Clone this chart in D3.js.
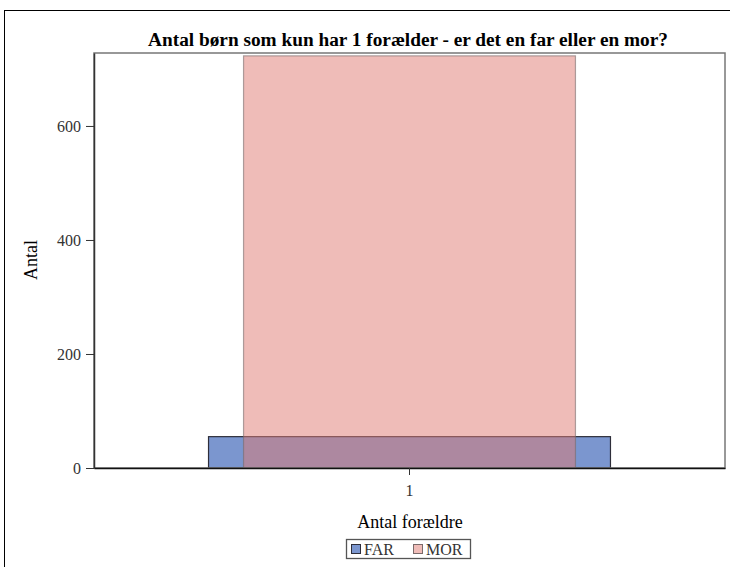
<!DOCTYPE html>
<html><head><meta charset="utf-8">
<script src="https://cdn.jsdelivr.net/npm/d3@7"></script>
<style>body{margin:0;background:#fff}svg{display:block}</style>
</head><body>
<script>
const categories = ["1"];
const series = ["FAR", "MOR"];
const farValues = [55];
const morValues = [723];
const yTicks = [0, 200, 400, 600];
const title = "Antal børn som kun har 1 forælder - er det en far eller en mor?";
const xTitle = "Antal forældre";
const yTitle = "Antal";

const FONT = "Liberation Serif, Times New Roman, DejaVu Serif, serif";
const W = 730, H = 567;
const m = {left: 94, right: 5, top: 53, bottom: 99};
const svg = d3.select("body").append("svg").attr("width", W).attr("height", H)
  .attr("font-family", FONT);

svg.append("rect").attr("x", 4.5).attr("y", 10.5).attr("width", 800).attr("height", 700)
  .attr("fill", "none").attr("stroke", "#000").attr("stroke-width", 1);

const x = d3.scaleBand().domain(categories).range([m.left, W - m.right]);
const y = d3.scaleLinear().domain([0, 728]).range([H - m.bottom, m.top]);

const farFrac = 0.637, morFrac = 0.526;
const g = svg.append("g");
const bw = x.bandwidth();

g.selectAll(".far").data(categories).join("rect")
  .attr("x", (d) => x(d) + bw * (1 - farFrac) / 2)
  .attr("width", bw * farFrac)
  .attr("y", (d, i) => y(farValues[i]))
  .attr("height", (d, i) => y(0) - y(farValues[i]))
  .attr("fill", "#7b96cf").attr("stroke", "#2e2e3a").attr("stroke-width", 1.2);

g.selectAll(".mor").data(categories).join("rect")
  .attr("x", (d) => x(d) + bw * (1 - morFrac) / 2)
  .attr("width", bw * morFrac)
  .attr("y", (d, i) => y(morValues[i]))
  .attr("height", (d, i) => y(0) - y(morValues[i]))
  .attr("fill", "rgb(223,121,113)").attr("fill-opacity", 0.5)
  .attr("stroke", "#7a6a6a").attr("stroke-opacity", 0.6).attr("stroke-width", 1.2);

// frame
svg.append("rect").attr("x", m.left).attr("y", m.top)
  .attr("width", W - m.right - m.left).attr("height", H - m.bottom - m.top)
  .attr("fill", "none").attr("stroke", "#777").attr("stroke-width", 1.5);

const ya = svg.append("g").attr("transform", `translate(${m.left},0)`)
  .call(d3.axisLeft(y).tickValues(yTicks).tickSize(8).tickSizeOuter(0).tickPadding(5).tickFormat(d3.format("d")));
ya.attr("font-family", FONT).attr("font-size", 16);
ya.select(".domain").attr("stroke", "#333").attr("stroke-width", 1.5);
ya.selectAll(".tick line").attr("stroke", "#333");
ya.selectAll("text").attr("fill", "#333");

const xa = svg.append("g").attr("transform", `translate(0,${H - m.bottom})`)
  .call(d3.axisBottom(x).tickSize(7).tickSizeOuter(0).tickPadding(10));
xa.attr("font-family", FONT).attr("font-size", 16);
xa.select(".domain").attr("stroke", "#111").attr("stroke-width", 1.5);
xa.selectAll(".tick line").attr("stroke", "#333");
xa.selectAll("text").attr("fill", "#333");

svg.append("text").attr("x", 408).attr("y", 46).attr("text-anchor", "middle")
  .attr("font-size", 19.3).attr("font-weight", "bold").text(title);
svg.append("text").attr("x", 410).attr("y", 528).attr("text-anchor", "middle")
  .attr("font-size", 18).text(xTitle);
svg.append("text").attr("transform", "translate(37,260) rotate(-90)").attr("text-anchor", "middle")
  .attr("font-size", 18).text(yTitle);

// legend
const lg = svg.append("g");
lg.append("rect").attr("x", 346.5).attr("y", 539.5).attr("width", 124).attr("height", 19)
  .attr("fill", "#fff").attr("stroke", "#555").attr("stroke-width", 1.3);
const legItems = [
  {name: series[0], x: 351, fill: "#7b96cf", stroke: "#2e2e3a", op: 1},
  {name: series[1], x: 413, fill: "rgb(223,121,113)", stroke: "#7a6a6a", op: 0.5}
];
legItems.forEach(it => {
  lg.append("rect").attr("x", it.x + 0.5).attr("y", 544.5).attr("width", 9).attr("height", 9)
    .attr("fill", it.fill).attr("fill-opacity", it.op).attr("stroke", it.stroke).attr("stroke-width", 1);
  lg.append("text").attr("x", it.x + 13).attr("y", 554.5)
    .attr("font-size", 16).attr("fill", "#333").text(it.name);
});
</script>
</body></html>
